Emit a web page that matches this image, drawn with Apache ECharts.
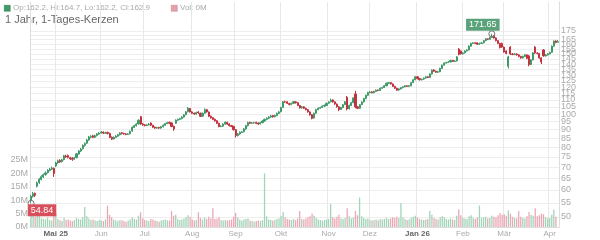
<!DOCTYPE html>
<html><head><meta charset="utf-8">
<script src="https://cdn.jsdelivr.net/npm/echarts@6/dist/echarts.min.js"></script>
<style>html,body{margin:0;padding:0;background:#fff}#c{width:600px;height:240px}</style>
</head><body><div id="c"></div>
<script>
// ---- data ----
const startDate = '2025-04-15';
const dayCount = 256;
const monthNames = ['Jan','Feb','Mär','Apr','Mai','Jun','Jul','Aug','Sep','Okt','Nov','Dez'];
const priceTicks = [50,55,60,65,70,75,80,85,90,95,100,105,110,115,120,125,130,135,140,145,150,155,160,165,170,175];
const volumeTicks = [0,5,10,15,20,25];
const opens = [
56.0,57.5,58.6,61.5,63.0,64.4,65.5,66.6,67.4,68.4,
69.0,69.4,70.5,72.0,73.2,72.6,73.6,75.4,75.6,74.6,
74.4,73.8,74.6,76.4,78.0,79.2,81.0,82.2,84.0,85.6,
86.4,85.6,86.6,87.4,88.0,88.6,87.9,88.4,87.8,85.6,
84.6,85.5,86.2,87.0,88.2,87.7,87.5,87.2,87.6,89.2,
91.4,92.4,93.6,98.3,93.6,93.0,92.6,93.0,94.2,92.8,
91.6,91.0,91.4,91.0,91.8,92.8,93.8,94.6,94.2,92.2,
94.0,96.0,96.5,97.0,98.0,99.6,101.6,103.8,101.5,100.6,
100.0,101.4,100.6,98.6,100.6,103.0,101.4,98.6,97.6,96.6,
95.6,94.0,92.0,92.2,93.5,94.6,93.6,92.6,92.0,90.0,
86.6,87.5,88.4,88.8,90.5,92.5,94.6,94.0,94.2,94.6,
94.2,93.6,94.4,95.5,96.5,97.2,98.0,99.0,98.2,99.0,
100.5,101.6,104.6,108.6,108.6,107.4,106.6,107.5,108.6,108.0,
106.0,104.2,105.0,104.0,103.0,101.5,99.6,97.4,100.6,103.0,
104.0,104.6,105.5,106.0,107.6,108.6,110.0,108.6,107.0,105.0,
103.2,104.5,106.6,112.0,103.6,106.0,108.0,114.5,105.0,104.0,
106.6,108.6,111.0,113.5,115.6,116.2,115.5,116.5,117.6,117.2,
119.0,119.6,121.0,123.0,123.6,122.5,120.5,119.0,117.6,118.5,
119.5,120.2,121.0,120.5,121.0,123.6,126.0,128.6,127.0,126.0,
126.6,127.5,128.6,128.0,131.0,134.6,133.5,132.6,133.0,136.0,
139.0,141.0,141.6,142.0,143.6,142.5,143.0,155.0,153.0,150.0,
151.0,153.0,154.0,158.0,161.0,161.6,161.6,160.0,161.0,161.6,
164.0,166.0,165.5,167.5,169.4,167.0,164.0,161.0,161.0,157.0,
153.0,138.0,157.0,150.0,149.4,150.0,149.0,147.5,146.0,147.5,
149.0,148.0,139.6,144.0,157.0,151.0,150.5,146.0,154.0,148.0,
149.0,150.0,151.6,158.0,163.6,162.2];
const closes = [
57.5,58.5,57.9,62.9,64.5,65.6,66.5,67.3,68.5,69.0,
69.5,67.0,72.0,73.0,72.5,73.5,75.5,75.0,74.8,74.0,
73.8,74.5,76.5,78.0,79.0,81.0,82.0,84.0,85.7,86.0,
85.5,86.5,87.5,88.0,88.5,88.0,88.2,87.8,85.5,84.5,
85.5,86.2,87.0,88.0,87.8,87.5,87.2,87.5,89.0,91.5,
92.5,93.5,96.0,93.5,93.0,92.6,93.0,93.5,92.8,91.5,
91.0,91.3,91.0,91.8,92.8,93.8,94.4,94.0,92.0,90.5,
96.0,96.5,97.0,98.0,99.5,101.5,104.0,101.5,100.5,100.0,
101.0,100.8,98.5,100.5,103.0,101.5,98.5,97.5,96.5,95.5,
94.0,92.0,92.2,93.5,94.7,93.5,92.5,92.0,90.0,86.5,
87.5,88.5,88.7,90.5,92.5,94.4,94.0,94.2,94.4,94.0,
93.5,94.4,95.5,96.5,97.2,98.0,98.8,98.2,99.0,100.5,
101.5,104.5,108.6,108.5,107.5,106.6,107.5,108.6,108.0,106.0,
104.2,105.0,104.0,103.0,101.5,99.5,97.2,100.5,103.0,104.0,
104.5,105.5,106.0,107.5,108.5,110.0,108.6,107.0,105.0,103.0,
104.5,106.5,108.6,103.5,106.0,108.0,111.5,105.0,104.0,106.5,
108.5,111.0,113.5,115.6,116.0,115.5,116.5,117.5,117.2,119.0,
119.5,121.0,123.0,123.5,122.5,120.5,119.0,117.5,118.5,119.5,
120.2,121.0,120.5,121.0,123.5,126.0,128.6,127.0,126.0,126.5,
127.5,128.5,128.0,131.0,134.5,133.5,132.5,133.0,136.0,139.0,
141.0,141.5,142.0,143.5,142.5,143.0,147.0,149.5,150.0,151.0,
153.0,154.0,158.0,161.0,161.5,161.0,160.0,161.0,161.5,164.0,
166.0,165.5,167.5,169.0,167.0,164.0,161.0,156.5,157.0,152.0,
150.5,147.0,150.0,149.5,150.0,149.0,147.5,146.0,147.5,149.0,
145.5,139.5,144.0,151.0,151.0,150.5,146.0,142.0,148.0,149.0,
150.0,151.5,158.0,163.5,162.0,162.9];
const lows = [
54.84,57.0,57.2,61.0,62.5,64.0,65.0,66.0,67.0,68.0,
68.6,65.5,70.0,71.5,72.0,72.2,73.2,74.5,74.2,73.4,
73.0,73.4,74.2,76.0,77.5,78.8,80.4,81.8,83.5,85.0,
85.0,85.2,86.0,87.0,87.6,87.4,87.5,87.2,85.0,84.0,
84.2,85.0,85.8,86.6,87.2,87.0,86.7,86.8,87.2,88.8,
91.0,92.0,93.2,93.0,92.4,92.0,92.2,92.6,92.2,91.0,
90.5,90.6,90.5,90.6,91.4,92.4,93.4,93.4,91.5,89.4,
93.6,95.6,96.0,96.6,97.6,99.2,101.2,101.0,100.0,99.4,
99.6,100.2,98.0,98.2,100.2,101.0,98.0,97.0,96.0,95.0,
93.5,91.5,91.6,91.8,93.0,93.0,92.0,91.5,89.5,85.4,
86.0,87.0,88.0,88.4,90.0,92.0,93.5,93.6,93.8,93.5,
93.0,93.2,94.0,95.0,96.0,96.8,97.6,97.6,97.8,98.6,
100.0,101.2,104.2,107.8,107.0,106.0,106.2,107.0,107.4,105.5,
103.8,103.8,103.5,102.5,101.0,99.0,96.5,97.0,100.2,102.6,
103.6,104.2,105.0,105.6,107.2,108.2,108.0,106.5,104.5,102.0,
102.8,104.0,106.2,102.5,103.2,105.6,107.6,104.0,103.4,103.6,
106.2,108.2,110.6,113.0,115.0,115.0,115.0,116.0,116.6,116.8,
118.6,119.2,120.6,122.6,122.0,120.0,118.5,117.0,117.0,118.0,
119.0,119.8,120.0,120.0,120.6,123.2,125.6,126.4,125.4,125.4,
126.0,127.0,127.4,127.6,130.6,133.0,132.0,132.0,132.6,135.6,
138.6,140.4,141.0,141.6,142.0,142.0,142.6,148.5,149.4,149.4,
150.4,152.4,153.6,157.4,160.4,160.4,159.2,159.4,160.4,161.0,
163.4,164.8,165.0,167.0,166.2,163.2,160.2,155.6,156.2,151.2,
149.6,136.0,149.0,148.6,148.6,148.2,146.6,145.2,145.4,147.0,
144.8,138.0,139.0,143.6,150.0,149.6,145.2,140.0,147.2,147.2,
148.4,149.4,151.2,157.6,161.2,162.2];
const highs = [
58.0,59.2,59.0,63.5,65.0,66.2,67.0,68.0,69.0,69.6,
70.2,69.8,72.6,73.6,73.8,74.0,76.0,76.0,76.2,75.0,
74.8,75.0,77.0,78.5,79.6,81.5,82.6,84.5,86.3,86.8,
87.0,87.0,88.0,88.6,89.2,89.0,88.8,88.8,88.2,86.0,
86.0,86.8,87.5,88.5,88.6,88.2,88.0,88.0,89.5,92.0,
93.0,94.0,96.5,98.8,94.0,93.5,93.6,94.2,94.6,93.0,
92.0,91.8,91.8,92.3,93.3,94.3,95.0,95.0,94.5,92.5,
96.5,97.0,97.6,98.6,100.0,102.0,104.8,104.2,102.0,101.0,
101.6,102.0,101.0,101.0,104.0,103.5,101.8,99.0,98.0,97.0,
96.0,94.4,92.8,94.0,95.2,95.0,94.0,93.0,92.4,90.4,
88.0,89.0,89.2,91.0,93.0,95.0,95.0,94.8,95.0,95.0,
94.6,95.0,96.0,97.0,97.8,98.6,99.4,99.4,99.6,101.0,
102.0,105.0,109.2,109.4,109.0,108.0,108.0,109.2,109.0,108.4,
106.4,105.6,105.4,104.4,103.4,101.8,100.0,101.0,103.6,104.6,
105.0,106.0,106.6,108.0,109.0,111.0,110.4,109.0,107.4,105.4,
105.0,107.0,109.2,113.0,106.6,108.6,112.0,117.0,105.6,107.0,
109.0,111.6,114.0,116.2,116.8,116.6,117.0,118.0,118.0,119.6,
120.2,121.6,123.6,124.2,124.0,123.0,121.0,119.4,119.0,120.0,
120.8,121.6,121.4,121.6,124.0,126.6,129.2,129.0,127.6,127.0,
128.0,129.0,129.0,131.6,135.0,135.2,134.0,133.8,136.6,139.6,
141.6,142.2,142.8,144.2,144.0,143.8,147.8,156.0,153.6,151.8,
153.6,154.8,158.8,161.8,162.4,162.4,162.0,161.8,162.4,164.8,
166.8,166.6,168.4,171.65,170.0,167.6,164.6,161.6,161.8,157.6,
153.6,148.0,158.0,150.8,150.8,150.6,149.6,148.0,148.2,149.8,
149.6,149.0,144.8,151.8,158.0,151.8,151.0,146.6,154.8,149.8,
150.8,152.2,158.8,164.2,164.2,164.7];
const volumes = [
5.5,4.2,3.8,6.0,4.5,3.2,3.0,2.8,3.5,2.6,
2.4,4.8,5.2,3.0,2.5,2.2,3.4,2.6,2.8,2.4,
2.2,2.6,3.4,3.0,2.8,3.6,7.5,4.0,3.2,2.6,
2.8,2.4,2.2,2.6,2.4,2.2,2.8,8.0,4.5,3.6,
2.8,2.4,2.2,2.6,2.5,2.2,2.0,2.4,2.8,3.6,
3.0,2.8,4.2,5.5,3.2,2.6,2.4,2.2,3.0,2.8,
2.4,2.2,2.0,2.4,2.6,2.8,2.5,2.4,6.0,4.2,
4.6,3.0,2.6,2.8,3.2,3.6,4.4,3.8,2.8,2.4,
2.6,5.5,3.4,2.8,3.6,3.0,3.8,3.2,7.0,3.0,
3.2,3.6,2.6,2.4,2.6,2.4,2.6,2.8,3.8,5.2,
3.6,2.8,2.4,2.8,3.0,3.2,2.4,2.2,2.0,2.2,
2.4,2.2,2.6,20.0,4.0,2.8,2.6,2.4,2.6,3.0,
3.2,4.2,5.6,3.6,3.0,2.8,2.6,3.0,2.6,3.2,
6.0,3.0,2.8,3.2,3.6,4.0,5.0,4.2,3.4,2.8,
2.6,2.4,2.6,2.8,3.0,8.5,3.6,3.2,3.8,4.6,
3.2,3.0,3.4,7.0,4.0,3.2,3.6,6.0,4.4,11.0,
4.0,3.4,3.0,3.2,2.6,2.4,2.6,2.8,2.4,3.0,
2.8,3.0,3.4,3.0,3.2,3.6,3.4,3.8,3.4,9.0,
3.6,3.0,2.6,2.8,3.4,3.8,4.2,3.6,3.0,2.8,
2.6,2.8,3.0,6.0,4.6,3.4,3.0,2.8,3.6,4.0,
3.6,3.0,2.8,3.2,2.8,2.6,4.2,6.5,4.4,3.4,
3.2,3.0,4.0,4.4,3.4,3.0,3.6,8.0,3.4,3.6,
3.8,3.2,3.4,4.2,3.8,3.6,4.4,5.2,4.6,4.8,
4.2,6.2,5.0,3.8,3.4,3.2,6.0,3.8,3.4,3.2,
4.0,5.6,4.6,4.2,7.0,4.0,4.4,5.0,4.8,3.6,
3.2,3.4,4.6,6.5,3.8,0];
const highLabel = '171.65';
const lowLabel = '54.84';
const headerText = 'Op:162.2, Hi:164.7, Lo:162.2, Cl:162.9';
const volText = 'Vol: 0M';
const titleText = '1 Jahr, 1-Tages-Kerzen';

// ---- build ----
const dates = [];
{
  const d = new Date(startDate + 'T00:00:00Z');
  while (dates.length < dayCount) {
    const wd = d.getUTCDay();
    if (wd !== 0 && wd !== 6) dates.push(d.toISOString().slice(0, 10));
    d.setUTCDate(d.getUTCDate() + 1);
  }
}
const monthOf = s => +s.slice(5, 7) - 1;
const isMonthStart = i => i > 0 && monthOf(dates[i]) !== monthOf(dates[i - 1]);
let firstLabel = -1;
for (let i = 0; i < dates.length; i++) { if (isMonthStart(i)) { firstLabel = i; break; } }

const UP = '#3f9a68', DOWN = '#c2323f';
const candleData = dates.map((_, i) => [Math.log(opens[i]), Math.log(closes[i]), Math.log(lows[i]), Math.log(highs[i])]);
const volData = volumes.map((v, i) => ({
  value: v,
  itemStyle: { color: closes[i] >= opens[i] ? '#a3d4b8' : '#eba8b4' }
}));
let hiIdx = 0, loIdx = 0;
highs.forEach((h, i) => { if (h > highs[hiIdx]) hiIdx = i; });
lows.forEach((l, i) => { if (l < lows[loIdx]) loIdx = i; });

const priceMin = Math.log(50) - 10 / 148.47;
const priceMax = Math.log(175) + 29 / 148.47;
const FONT = '"Liberation Sans", Arial, sans-serif';

const chart = echarts.init(document.getElementById('c'), null, { renderer: 'canvas' });
chart.setOption({
  animation: false,
  backgroundColor: '#fff',
  textStyle: { fontFamily: FONT },
  grid: { left: 30, right: 41, top: 2, bottom: 13 },
  xAxis: {
    type: 'category',
    data: dates,
    boundaryGap: true,
    axisLine: { show: true, lineStyle: { color: '#ddd' } },
    axisTick: { show: false },
    splitLine: { show: true, interval: (i) => isMonthStart(i), lineStyle: { color: '#e8e8e8', width: 1 } },
    axisLabel: {
      interval: (i) => isMonthStart(i),
      margin: 3,
      fontSize: 8,
      color: '#aaa',
      hideOverlap: false,
      formatter: (val, i) => {
        const m = monthOf(val);
        if (m === 0 || i === firstLabel) return '{b|' + monthNames[m] + ' ' + val.slice(2, 4) + '}';
        return monthNames[m];
      },
      rich: { b: { fontSize: 8, color: '#666', fontWeight: 'bold', fontFamily: FONT } }
    }
  },
  yAxis: [
    {
      type: 'value',
      position: 'right',
      min: priceMin,
      max: priceMax,
      axisLine: { show: true, lineStyle: { color: '#ddd' } },
      axisTick: { show: false, customValues: priceTicks.map(Math.log) },
      splitLine: { show: true, lineStyle: { color: '#eeeeee', width: 1 } },
      axisLabel: {
        customValues: priceTicks.map(Math.log),
        formatter: v => String(Math.round(Math.exp(v))),
        fontSize: 9,
        color: '#aaa',
        margin: 2,
        hideOverlap: false,
        showMinLabel: true, showMaxLabel: true
      }
    },
    {
      type: 'value',
      position: 'left',
      min: 0,
      max: 225 / 2.68,
      axisLine: { show: true, lineStyle: { color: '#ddd' } },
      axisTick: { show: false },
      splitLine: { show: false },
      axisLabel: {
        customValues: volumeTicks,
        formatter: v => v + 'M',
        fontSize: 9,
        color: '#aaa',
        margin: 2,
        hideOverlap: false
      }
    }
  ],
  series: [
    {
      type: 'bar',
      yAxisIndex: 1,
      data: volData,
      barWidth: 1.3,
      z: 1
    },
    {
      type: 'candlestick',
      yAxisIndex: 0,
      data: candleData,
      barWidth: 1.6,
      z: 3,
      itemStyle: { color: UP, color0: DOWN, borderColor: UP, borderColor0: DOWN, borderWidth: 1 },
      markPoint: {
        silent: true,
        data: [
          { coord: [hiIdx, Math.log(highs[hiIdx])], symbol: 'circle', symbolSize: 6,
            itemStyle: { color: 'rgba(255,255,255,0)', borderColor: '#777', borderWidth: 1 }, label: { show: false } },
          { coord: [hiIdx, Math.log(highs[hiIdx])], symbol: 'circle', symbolSize: 1,
            itemStyle: { color: 'rgba(0,0,0,0)' },
            label: { show: true, position: 'inside', offset: [-9, -9], formatter: highLabel, color: '#fff', fontSize: 9,
              backgroundColor: '#5aa37a', padding: [2, 3, 1, 3], fontFamily: FONT } },
          { coord: [loIdx, Math.log(lows[loIdx])], symbol: 'circle', symbolSize: 6,
            itemStyle: { color: 'rgba(255,255,255,0)', borderColor: '#777', borderWidth: 1 }, label: { show: false } },
          { coord: [loIdx, Math.log(lows[loIdx])], symbol: 'circle', symbolSize: 1,
            itemStyle: { color: 'rgba(0,0,0,0)' },
            label: { show: true, position: 'inside', offset: [11, 7], formatter: lowLabel, color: '#fff', fontSize: 9,
              backgroundColor: '#d8505b', padding: [2, 3, 1, 3], fontFamily: FONT } }
        ]
      }
    }
  ],
  graphic: [
    { type: 'rect', left: 4, top: 5, shape: { width: 6, height: 6 }, style: { fill: '#3f9a68', stroke: '#2d7a50', lineWidth: 0.5 } },
    { type: 'text', left: 13, top: 4, style: { text: headerText, fontSize: 8, fill: '#aaa', fontFamily: FONT } },
    { type: 'rect', left: 171, top: 5, shape: { width: 6, height: 6 }, style: { fill: '#e3a0ad', stroke: '#c8788a', lineWidth: 0.5 } },
    { type: 'text', left: 180, top: 4, style: { text: volText, fontSize: 8, fill: '#aaa', fontFamily: FONT } },
    { type: 'text', left: 5, top: 14, style: { text: titleText, fontSize: 11, fill: '#666', fontFamily: FONT } }
  ]
});
</script>
</body></html>
